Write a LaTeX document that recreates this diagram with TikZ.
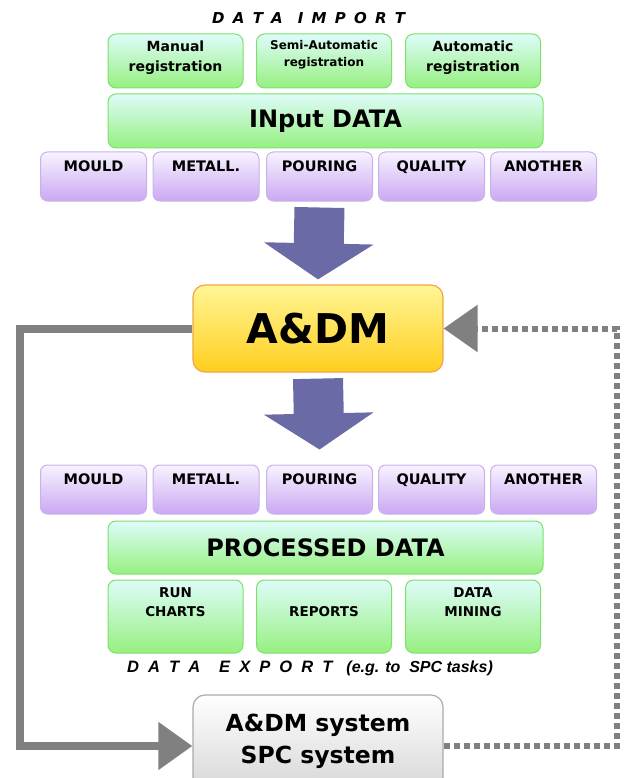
\documentclass[tikz,border=0pt]{standalone}
\usepackage{fontspec}
\setmainfont{DejaVu Sans}
\newfontfamily\headfont{Liberation Sans}
\usetikzlibrary{arrows.meta,positioning}

\newcommand{\lsp}{\hspace{0.55em}}

\definecolor{greentop}{RGB}{222,252,250}
\definecolor{greenbot}{RGB}{150,240,128}
\definecolor{greenline}{RGB}{125,225,105}
\definecolor{purptop}{RGB}{248,243,255}
\definecolor{purpbot}{RGB}{202,168,242}
\definecolor{purpline}{RGB}{200,178,235}
\definecolor{yeltop}{RGB}{255,246,150}
\definecolor{yelbot}{RGB}{255,206,30}
\definecolor{yelline}{RGB}{240,165,70}
\definecolor{systop}{RGB}{255,255,255}
\definecolor{sysbot}{RGB}{212,212,212}
\definecolor{sysline}{RGB}{170,170,170}
\definecolor{flowblue}{RGB}{106,106,166}
\definecolor{loopgray}{RGB}{128,128,128}

\begin{document}
\begin{tikzpicture}[x=1pt,y=-1pt,
	greenbox/.style={draw=greenline,line width=1pt,rounded corners=8pt,top color=greentop,bottom color=greenbot,minimum width=135pt,minimum height=54pt,inner sep=0pt},
	purpbox/.style={draw=purpline,line width=1pt,rounded corners=7pt,top color=purptop,bottom color=purpbot,minimum width=106pt,minimum height=49pt,inner sep=0pt},
	boxtext/.style={font=\bfseries,align=center,inner sep=0pt,text depth=0pt},
	bigarrow/.style={flowblue,line width=50pt,-{Triangle[length=36pt,width=108pt]}},
	loopline/.style={loopgray,line width=8pt,-{Triangle[length=34pt,width=46pt]}},
	dotline/.style={loopgray,line width=6pt,dash pattern=on 6pt off 4pt,-{Triangle[length=34pt,width=46pt]}}]
	\useasboundingbox (0,0) rectangle (624,778);
	\clip (0,0) rectangle (624,778);

	% data import
	\node[anchor=west,inner sep=0pt,font=\bfseries\itshape\fontsize{15}{18}\selectfont] (imp) at (212,18) {D\lsp A\lsp T\lsp A\hspace{15pt}I\lsp M\lsp P\lsp O\lsp R\lsp T};

	\node[greenbox] (man) at (175.5,61) {};
	\node[greenbox] (semi) at (324,61) {};
	\node[greenbox] (auto) at (473,61) {};
	\node[boxtext,font=\bfseries\fontsize{14}{20}\selectfont,below=7pt of man.north] (mant) {Manual\\registration};
	\node[boxtext,font=\bfseries\fontsize{12}{17}\selectfont,below=7pt of semi.north] (semit) {Semi-Automatic\\registration};
	\node[boxtext,font=\bfseries\fontsize{14}{20}\selectfont,below=7pt of auto.north] (autot) {Automatic\\registration};

	\node[greenbox,minimum width=435pt,font=\bfseries\fontsize{24}{28}\selectfont] (inp) at (325.5,121) {INput DATA};

	\node[purpbox] (pa1) at (93.5,176.5) {};
	\node[purpbox] (pa2) at (206,176.5) {};
	\node[purpbox] (pa3) at (319.5,176.5) {};
	\node[purpbox] (pa4) at (431.5,176.5) {};
	\node[purpbox] (pa5) at (543.5,176.5) {};
	\node[boxtext,font=\bfseries\fontsize{14.5}{18}\selectfont,below=9pt of pa1.north] (pa1t) {MOULD};
	\node[boxtext,font=\bfseries\fontsize{14.5}{18}\selectfont,below=9pt of pa2.north] (pa2t) {METALL.};
	\node[boxtext,font=\bfseries\fontsize{14.5}{18}\selectfont,below=9pt of pa3.north] (pa3t) {POURING};
	\node[boxtext,font=\bfseries\fontsize{14.5}{18}\selectfont,below=9pt of pa4.north] (pa4t) {QUALITY};
	\node[boxtext,font=\bfseries\fontsize{14.5}{18}\selectfont,below=9pt of pa5.north] (pa5t) {ANOTHER};

	% core
	\node[draw=yelline,line width=1.2pt,rounded corners=12pt,top color=yeltop,bottom color=yelbot,minimum width=250pt,minimum height=87pt,font=\bfseries\fontsize{41}{46}\selectfont] (adm) at (318,328.5) {A\&DM};

	\draw[bigarrow] ([yshift=-6pt]pa3.south) -- ([yshift=5pt]adm.north);

	% processed
	\node[purpbox] (pb1) at (93.5,489.5) {};
	\node[purpbox] (pb2) at (206,489.5) {};
	\node[purpbox] (pb3) at (319.5,489.5) {};
	\node[purpbox] (pb4) at (431.5,489.5) {};
	\node[purpbox] (pb5) at (543.5,489.5) {};
	\node[boxtext,font=\bfseries\fontsize{14.5}{18}\selectfont,below=9pt of pb1.north] (pb1t) {MOULD};
	\node[boxtext,font=\bfseries\fontsize{14.5}{18}\selectfont,below=9pt of pb2.north] (pb2t) {METALL.};
	\node[boxtext,font=\bfseries\fontsize{14.5}{18}\selectfont,below=9pt of pb3.north] (pb3t) {POURING};
	\node[boxtext,font=\bfseries\fontsize{14.5}{18}\selectfont,below=9pt of pb4.north] (pb4t) {QUALITY};
	\node[boxtext,font=\bfseries\fontsize{14.5}{18}\selectfont,below=9pt of pb5.north] (pb5t) {ANOTHER};

	\draw[bigarrow] ([yshift=-6pt]adm.south) -- ([yshift=15pt]pb3.north);

	\node[greenbox,minimum width=435pt,minimum height=53pt,font=\bfseries\fontsize{24}{28}\selectfont] (proc) at (325.5,547.5) {PROCESSED DATA};

	\node[greenbox,minimum height=73pt] (run) at (175.5,616.5) {};
	\node[greenbox,minimum height=73pt] (rep) at (324,616.5) {};
	\node[greenbox,minimum height=73pt] (mine) at (473,616.5) {};
	\node[boxtext,font=\bfseries\fontsize{13.5}{19}\selectfont,below=8pt of run.north] (runt) {RUN\\CHARTS};
	\node[boxtext,font=\bfseries\fontsize{13.5}{19}\selectfont,below=27pt of rep.north] (rept) {REPORTS};
	\node[boxtext,font=\bfseries\fontsize{13.5}{19}\selectfont,below=8pt of mine.north] (minet) {DATA\\MINING};

	\node[anchor=west,inner sep=0pt,font=\headfont\bfseries\itshape\fontsize{16.5}{18}\selectfont] (exp) at (127,668) {D\lsp A\lsp T\lsp A\hspace{19pt}E\lsp X\lsp P\lsp O\lsp R\lsp T\hspace{14pt}{\fontsize{16}{18}\selectfont(e.g. to\ \ SPC tasks)}};

	% output systems
	\node[draw=sysline,line width=1.2pt,rounded corners=12pt,top color=systop,bottom color=sysbot,minimum width=250pt,minimum height=102pt] (sys) at (318,746) {};
	\node[boxtext,font=\bfseries\fontsize{23.5}{32}\selectfont,below=19pt of sys.north] (syst) {A\&DM system\\SPC system};

	\draw[loopline] (adm.west) -- (20,328.5) |- (sys.west);
	\draw[dotline] (sys.east) -- (617,746) |- (adm.east);
\end{tikzpicture}
\end{document}
